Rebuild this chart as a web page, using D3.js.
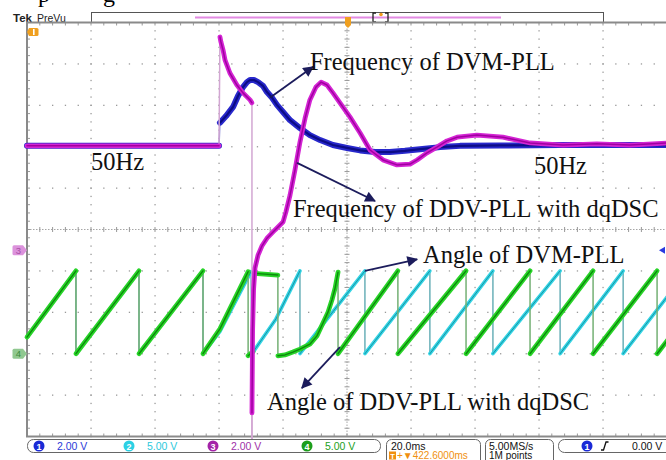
<!DOCTYPE html>
<html>
<head>
<meta charset="utf-8">
<script src="https://cdn.jsdelivr.net/npm/d3@7"></script>
<style>
  html, body { margin: 0; padding: 0; background: #fff; }
  svg { display: block; }
</style>
</head>
<body>
<svg id="scope" width="666" height="460"></svg>
<script>
// time in ms (20 ms/div, 10 div), amplitude in screen divisions (0 = centre line)
// every trace is a list of slow segments; the jumps between them are fast edges

// ch1 - frequency of DVM-PLL
const freqDvm = [
  [[0, 2.02], [60, 2.02]],
  [[60.3, 2.58], [62.2, 2.74], [64.4, 2.96], [65.9, 3.22], [67.5, 3.44], [68.75, 3.56], [69.7, 3.61],
   [70.9, 3.61], [72.2, 3.56], [73.75, 3.47], [75, 3.32], [76.6, 3.18], [78.1, 3.01], [80, 2.84],
   [82.2, 2.64], [85.3, 2.45], [88.4, 2.28], [91.6, 2.16], [95.6, 2.04], [100, 1.97], [104.1, 1.91],
   [108.75, 1.87], [113.4, 1.87], [118.1, 1.9], [122.8, 1.94], [129.1, 1.99], [135.3, 2.02],
   [147.8, 2.03], [166.6, 2.04], [185.3, 2.04], [200, 2.04]]
];

// ch3 - frequency of DDV-PLL with dqDSC
const freqDdv = [
  [[0, 2.02], [60, 2.02]],
  [[60.3, 4.65], [60.6, 4.53], [61.25, 4.34], [61.9, 4.09], [63.4, 3.78], [65.6, 3.49], [67.5, 3.3],
   [69.7, 3.13], [70.3, 3.06]],
  [[70.3, -5.1]],
  [[70.3, -4.43], [70.5, -2.43], [70.8, -1.46], [71.25, -0.93], [72.2, -0.62], [73.4, -0.4], [75, -0.21],
   [77.5, -0.01], [80, 0.18], [80.9, 0.42], [82.2, 0.83], [83.75, 1.44], [85.3, 2.11], [86.9, 2.69],
   [88.4, 3.13], [90.3, 3.44], [91.9, 3.56], [93.75, 3.49], [95.6, 3.3], [97.8, 3.06], [100.9, 2.72],
   [104.1, 2.33], [107.2, 1.92], [111.25, 1.68], [115.6, 1.56], [119.7, 1.58], [121.9, 1.68],
   [125, 1.85], [128.1, 1.99], [131.25, 2.14], [134.4, 2.23], [140.6, 2.28], [148.75, 2.23],
   [157.2, 2.09], [167.5, 2.04], [178.1, 2.07], [188.4, 2.04], [200, 2.09]]
];

// ch2 - angle of DVM-PLL
const angleDvm = [
  [[0, -2.6], [15.3, -1]],
  [[15.3, -3], [35, -1]],
  [[35, -3], [55, -1]],
  [[55, -3], [60.3, -2.46], [70, -1.02]],
  [[70.3, -3], [77.8, -2.16], [85.3, -1]],
  [[85.3, -3], [105.6, -1]],
  [[105.6, -3], [125.9, -1]],
  [[125.9, -3], [145.6, -1]],
  [[145.6, -3], [166.6, -1]],
  [[166.6, -3], [186.3, -1]],
  [[186.3, -3], [200, -1.63]]
];

// ch4 - angle of DDV-PLL with dqDSC
const angleDdv = [
  [[0, -2.6], [15.3, -1]],
  [[15.3, -3], [35, -1]],
  [[35, -3], [55, -1]],
  [[55, -3], [60.3, -2.4], [69.1, -1.02]],
  [[69.1, -3.05], [70.6, -2.95]],
  [[70.9, -1.06], [78.4, -1.1]],
  [[78.4, -3.05], [80.6, -3.03], [83.1, -2.96], [85.3, -2.89], [88.4, -2.77], [90.6, -2.57],
   [92.5, -2.26], [94.1, -1.99], [95.3, -1.7], [96.3, -1.41], [97.2, -1.03]],
  [[97.2, -3], [115.9, -1]],
  [[115.9, -3], [137.2, -1]],
  [[137.2, -3], [157.2, -1]],
  [[157.2, -3], [176.9, -1]],
  [[176.9, -3], [196.9, -1]],
  [[196.9, -3], [200, -2.69]]
];

// annotations: label anchor and arrow (from -> to) in ms / div
const notes = [
  { text: 'Frequency of DVM-PLL', at: [88.4, 3.85], from: [75.9, 3.18], to: [89.4, 3.93] },
  { text: 'Frequency of DDV-PLL with dqDSC', at: [83.1, 0.3], from: [84.4, 1.61], to: [108.75, 0.69] },
  { text: 'Angle of DVM-PLL', at: [123.75, -0.81], from: [105.6, -1.0], to: [121.9, -0.72] },
  { text: 'Angle of DDV-PLL with dqDSC', at: [75, -4.36], from: [97.8, -2.84], to: [85.9, -3.83] },
  { text: '50Hz', at: [20, 1.44] },
  { text: '50Hz', at: [158.4, 1.34] }
];

const chanNames = ['1', '2', '3', '4'];
const chanScales = ['2.00 V', '5.00 V', '2.00 V', '5.00 V'];
const chanColors = ['#1a2ad6', '#2cd0e4', '#a424a8', '#1c9e1c'];
const chanText = ['#2a3ad8', '#2cc8dc', '#a030a8', '#22a022'];
const timeBase = '20.0ms';
const trigPos = '+\u25BC422.6000ms';
const sampleRate = '5.00MS/s';
const recordLen = '1M points';
const trigLevel = '0.00 V';

const svg = d3.select('#scope');
const x = d3.scaleLinear().domain([0, 200]).range([27, 667]);
const y = d3.scaleLinear().domain([-5, 5]).range([436.5, 22.5]);
const line = d3.line().x(d => x(d[0])).y(d => y(d[1]));

// cut-off caption of the page above
svg.append('text').attr('x', 38).attr('y', 2).attr('font-family', 'Liberation Serif').attr('font-size', 24).text('p');
svg.append('text').attr('x', 103).attr('y', 2).attr('font-family', 'Liberation Serif').attr('font-size', 24).text('g');

// header
svg.append('text').attr('x', 13).attr('y', 21.5).attr('font-family', 'Liberation Sans').attr('font-weight', 'bold')
  .attr('font-size', 11.5).attr('fill', '#222').text('Tek');
svg.append('text').attr('x', 37).attr('y', 21.5).attr('font-family', 'Liberation Sans')
  .attr('font-size', 10.5).attr('fill', '#222').text('PreVu');
svg.append('rect').attr('x', 91.5).attr('y', 12.5).attr('width', 512).attr('height', 10)
  .attr('fill', '#fff').attr('stroke', '#555').attr('stroke-width', 1);
svg.append('line').attr('x1', 195).attr('x2', 501).attr('y1', 17.5).attr('y2', 17.5)
  .attr('stroke', '#e28ae2').attr('stroke-width', 2);
svg.append('path').attr('d', 'M376,13 h-3 v9 h3 M385,13 h3 v9 h-3').attr('fill', 'none').attr('stroke', '#222').attr('stroke-width', 1.3);
svg.append('circle').attr('cx', 381).attr('cy', 14.5).attr('r', 1.8).attr('fill', '#f09a1a');

// graticule
const grid = svg.append('g');
const dotColor = '#9a9a9a';
d3.range(1, 10).filter(i => i !== 5).forEach(i => {
  d3.range(-5, 5.001, 0.2).forEach(v => {
    grid.append('rect').attr('x', x(i * 20) - 0.6).attr('y', y(v) - 0.6).attr('width', 1.3).attr('height', 1.3).attr('fill', dotColor);
  });
});
d3.range(-4, 5).filter(v => v !== 0).forEach(v => {
  d3.range(0, 200.001, 4).forEach(t => {
    grid.append('rect').attr('x', x(t) - 0.6).attr('y', y(v) - 0.6).attr('width', 1.3).attr('height', 1.3).attr('fill', dotColor);
  });
});
// centre cross with ticks
grid.append('line').attr('x1', x(0)).attr('x2', x(200)).attr('y1', y(0)).attr('y2', y(0))
  .attr('stroke', '#a6a6a6').attr('stroke-width', 1).attr('stroke-dasharray', '1.5,1.5');
grid.append('line').attr('x1', x(100)).attr('x2', x(100)).attr('y1', y(5)).attr('y2', y(-5))
  .attr('stroke', '#a6a6a6').attr('stroke-width', 1).attr('stroke-dasharray', '1.5,1.5');
d3.range(0, 200.001, 4).forEach(t => {
  grid.append('line').attr('x1', x(t)).attr('x2', x(t)).attr('y1', y(0) - 2.5).attr('y2', y(0) + 2.5).attr('stroke', '#999');
  grid.append('line').attr('x1', x(t)).attr('x2', x(t)).attr('y1', y(5)).attr('y2', y(5) + 3).attr('stroke', '#999');
  grid.append('line').attr('x1', x(t)).attr('x2', x(t)).attr('y1', y(-5)).attr('y2', y(-5) - 3).attr('stroke', '#999');
});
d3.range(-5, 5.001, 0.2).forEach(v => {
  grid.append('line').attr('x1', x(100) - 2.5).attr('x2', x(100) + 2.5).attr('y1', y(v)).attr('y2', y(v)).attr('stroke', '#999');
  grid.append('line').attr('x1', x(0)).attr('x2', x(0) + 3).attr('y1', y(v)).attr('y2', y(v)).attr('stroke', '#999');
});
grid.append('rect').attr('x', x(0)).attr('y', y(5)).attr('width', x(200) - x(0)).attr('height', y(-5) - y(5))
  .attr('fill', 'none').attr('stroke', '#8a8a8a').attr('stroke-width', 2);

// traces
function drawTrace(segs, outer, inner, wOuter, wInner, edge) {
  const tg = svg.append('g').attr('fill', 'none').attr('stroke-linejoin', 'round').attr('stroke-linecap', 'round');
  for (let i = 1; i < segs.length; i++) {
    const a = segs[i - 1][segs[i - 1].length - 1], b = segs[i][0];
    tg.append('line').attr('x1', x(a[0])).attr('y1', y(a[1])).attr('x2', x(b[0])).attr('y2', y(b[1]))
      .attr('stroke', edge).attr('stroke-width', 1.5);
  }
  segs.filter(s => s.length > 1).forEach(s => {
    tg.append('path').attr('d', line(s)).attr('stroke', outer).attr('stroke-width', wOuter);
    tg.append('path').attr('d', line(s)).attr('stroke', inner).attr('stroke-width', wInner);
  });
}
drawTrace(freqDvm, '#2828cc', '#0c0c86', 6, 2.2, '#9090d8');
drawTrace(angleDvm, '#34d4e4', '#1894a4', 3.6, 1, '#6ab0b8');
drawTrace(angleDdv, '#28d428', '#0c8a0c', 4.8, 1.4, '#74b074');
drawTrace(freqDdv, '#d424d4', '#a000a0', 4.8, 1.5, '#d2a6d2');

// annotations
const ann = svg.append('g');
ann.append('defs').append('marker').attr('id', 'head').attr('viewBox', '0 0 10 10')
  .attr('refX', 9).attr('refY', 5).attr('markerWidth', 7).attr('markerHeight', 6).attr('orient', 'auto')
  .attr('markerUnits', 'strokeWidth')
  .append('path').attr('d', 'M0,0 L10,5 L0,10 z').attr('fill', '#1c1c5c');
notes.forEach(n => {
  if (n.from) {
    ann.append('line').attr('x1', x(n.from[0])).attr('y1', y(n.from[1])).attr('x2', x(n.to[0])).attr('y2', y(n.to[1]))
      .attr('stroke', '#1c1c5c').attr('stroke-width', 1.8).attr('marker-end', 'url(#head)');
  }
  ann.append('text').attr('x', x(n.at[0])).attr('y', y(n.at[1]))
    .attr('font-family', 'Liberation Serif, Times New Roman, serif').attr('font-size', 24.5).attr('fill', '#111')
    .text(n.text);
});

// channel markers
function marker(v, fill, ink, label) {
  const cy = y(v);
  svg.append('path').attr('d', `M14,${cy - 5} h9 l4,5 l-4,5 h-9 q-1.5,0 -1.5,-1.5 v-7 q0,-1.5 1.5,-1.5 z`).attr('fill', fill);
  svg.append('text').attr('x', 18.5).attr('y', cy + 3.5).attr('text-anchor', 'middle')
    .attr('font-family', 'Liberation Sans').attr('font-size', 9.5).attr('fill', ink).text(label);
}
marker(-0.5, '#dc92dc', '#a450a4', '3');
marker(-3.0, '#90c890', '#3c8a3c', '4');
svg.append('path').attr('d', 'M29,28 h8 q1.5,0 1.5,1.5 v5 q0,1.5 -1.5,1.5 h-8 l-2,-4 z').attr('fill', '#f0a020');
svg.append('rect').attr('x', 33).attr('y', 29).attr('width', 1.6).attr('height', 6).attr('fill', '#fff');
svg.append('path').attr('d', `M345,17 h6 v8 l-3,3 l-3,-3 z`).attr('fill', '#f0a020');
svg.append('path').attr('d', `M659,${y(-0.5)} l6,-3.5 v7 z`).attr('fill', '#2a3ae0');

// status bar
const sb = svg.append('g').attr('font-family', 'Liberation Sans, Arial, sans-serif').attr('font-size', 10.5);
sb.append('rect').attr('x', 27.5).attr('y', 439.5).attr('width', 353).attr('height', 13).attr('rx', 6)
  .attr('fill', '#fff').attr('stroke', '#666');
const badgeX = [39, 129, 213, 307];
chanNames.forEach((c, i) => {
  sb.append('circle').attr('cx', badgeX[i]).attr('cy', 446).attr('r', 5.5).attr('fill', chanColors[i]);
  sb.append('text').attr('x', badgeX[i]).attr('y', 449.5).attr('text-anchor', 'middle').attr('font-size', 9)
    .attr('font-weight', 'bold').attr('fill', '#fff').text(c);
  sb.append('text').attr('x', badgeX[i] + 18).attr('y', 450).attr('fill', chanText[i]).text(chanScales[i]);
});
sb.append('rect').attr('x', 386.5).attr('y', 439.5).attr('width', 94).attr('height', 30).attr('rx', 5)
  .attr('fill', '#fff').attr('stroke', '#666');
sb.append('text').attr('x', 391).attr('y', 449.5).attr('fill', '#111').text(timeBase);
sb.append('rect').attr('x', 389).attr('y', 451.5).attr('width', 7).attr('height', 8).attr('fill', '#f09010');
sb.append('text').attr('x', 392.5).attr('y', 458.5).attr('text-anchor', 'middle').attr('font-size', 7.5)
  .attr('font-weight', 'bold').attr('fill', '#fff').text('T');
sb.append('text').attr('x', 397).attr('y', 459).attr('font-size', 10).attr('fill', '#f09010').text(trigPos);
sb.append('rect').attr('x', 485.5).attr('y', 439.5).attr('width', 68).attr('height', 30).attr('rx', 5)
  .attr('fill', '#fff').attr('stroke', '#666');
sb.append('text').attr('x', 489).attr('y', 449.5).attr('fill', '#111').text(sampleRate);
sb.append('text').attr('x', 489).attr('y', 459).attr('font-size', 10).attr('fill', '#111').text(recordLen);
sb.append('rect').attr('x', 558.5).attr('y', 439.5).attr('width', 120).attr('height', 13).attr('rx', 6)
  .attr('fill', '#fff').attr('stroke', '#666');
sb.append('circle').attr('cx', 587).attr('cy', 446).attr('r', 5.5).attr('fill', chanColors[0]);
sb.append('text').attr('x', 587).attr('y', 449.5).attr('text-anchor', 'middle').attr('font-size', 9)
  .attr('font-weight', 'bold').attr('fill', '#fff').text('1');
sb.append('path').attr('d', 'M601,450 h2.5 l2.5,-8 h2.5').attr('fill', 'none').attr('stroke', '#111').attr('stroke-width', 1.3);
sb.append('text').attr('x', 632).attr('y', 450).attr('fill', '#111').text(trigLevel);
</script>
</body>
</html>
